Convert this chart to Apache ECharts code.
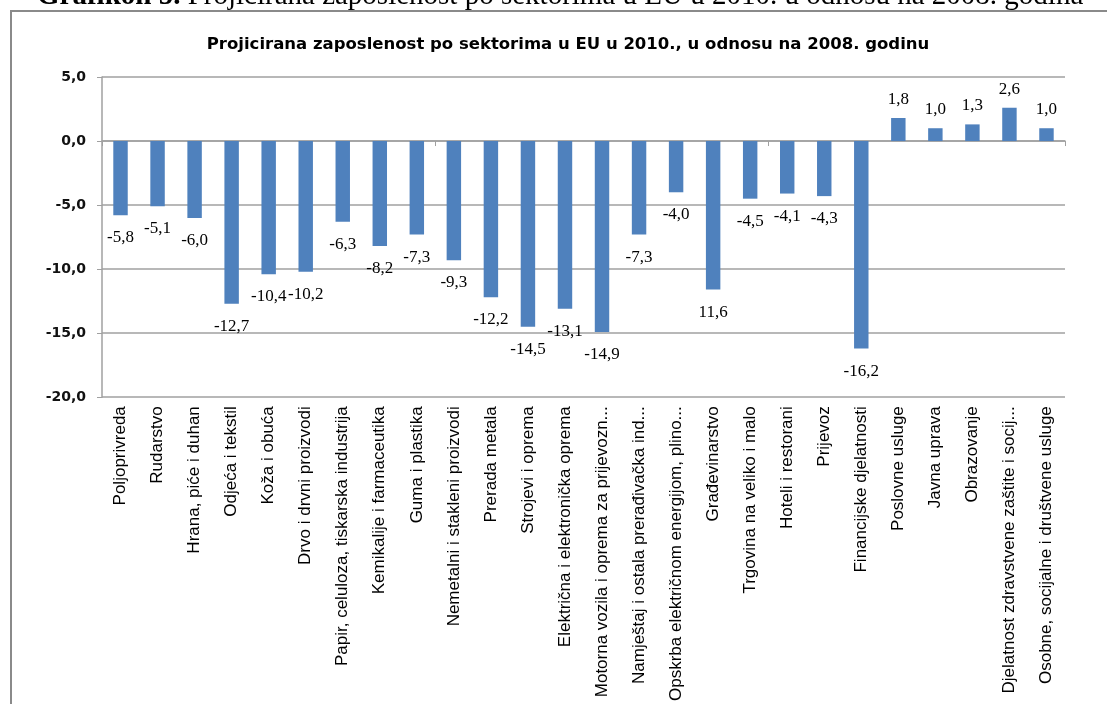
<!DOCTYPE html>
<html>
<head>
<meta charset="utf-8">
<script src="https://cdn.jsdelivr.net/npm/echarts@6/dist/echarts.min.js"></script>
<style>
html,body{margin:0;padding:0;background:#fff;}
#chart{width:1107px;height:704px;}
</style>
</head>
<body>
<div id="chart"></div>
<script>
const categories = [
  "Poljoprivreda", "Rudarstvo", "Hrana, piće i duhan", "Odjeća i tekstil", "Koža i obuća",
  "Drvo i drvni proizvodi", "Papir, celuloza, tiskarska industrija", "Kemikalije i farmaceutika",
  "Guma i plastika", "Nemetalni i stakleni proizvodi", "Prerada metala", "Strojevi i oprema",
  "Električna i elektronička oprema", "Motorna vozila i oprema za prijevozna sredstva",
  "Namještaj i ostala prerađivačka industrija", "Opskrba električnom energijom, plinom i vodom",
  "Građevinarstvo", "Trgovina na veliko i malo", "Hoteli i restorani", "Prijevoz",
  "Financijske djelatnosti", "Poslovne usluge", "Javna uprava", "Obrazovanje",
  "Djelatnost zdravstvene zaštite i socijalne skrbi", "Osobne, socijalne i društvene usluge"
];
const values = [
  -5.8, -5.1, -6.0, -12.7, -10.4, -10.2, -6.3, -8.2, -7.3, -9.3, -12.2, -14.5, -13.1,
  -14.9, -7.3, -4.0, -11.6, -4.5, -4.1, -4.3, -16.2, 1.8, 1.0, 1.3, 2.6, 1.0
];
const dataLabels = [
  "-5,8", "-5,1", "-6,0", "-12,7", "-10,4", "-10,2", "-6,3", "-8,2", "-7,3", "-9,3", "-12,2", "-14,5", "-13,1",
  "-14,9", "-7,3", "-4,0", "11,6", "-4,5", "-4,1", "-4,3", "-16,2", "1,8", "1,0", "1,3", "2,6", "1,0"
];
const chartTitle = "Projicirana zaposlenost po sektorima u EU u 2010., u odnosu na 2008. godinu";
const captionBold = "Grafikon 5.";
const captionText = " Projicirana zaposlenost po sektorima u EU u 2010. u odnosu na 2008. godina";
const yMin = -20, yMax = 5, yStep = 5;

const chart = echarts.init(document.getElementById('chart'), null, {renderer: 'canvas'});
const barData = values.map(v => ({
  value: v,
  label: {position: v < 0 ? 'bottom' : 'top', distance: v < 0 ? 14 : 10}
}));

chart.setOption({
  backgroundColor: '#ffffff',
  animation: false,
  title: {
    text: chartTitle,
    left: 563, top: 31, textAlign: 'center',
    textStyle: {fontFamily: 'DejaVu Sans', fontWeight: 'bold', fontSize: 16.5, color: '#000'}
  },
  graphic: [
    {type: 'rect', shape: {x: 11, y: 11, width: 1300, height: 900},
     style: {fill: 'none', stroke: '#8a8a8a', lineWidth: 2}, z: -10, silent: true},
    {type: 'text', left: 37, top: -18,
     style: {
       text: '{b|' + captionBold + '}{n|' + captionText + '}',
       rich: {
         b: {fontFamily: 'Liberation Serif', fontWeight: 'bold', fontSize: 29, fill: '#000'},
         n: {fontFamily: 'Liberation Serif', fontSize: 29, fill: '#000'}
       }
     }, z: 10}
  ],
  grid: {left: 102, right: 42, top: 77, bottom: 305, containLabel: false},
  xAxis: [
    {
      type: 'category', data: categories, position: 'bottom',
      axisLine: {show: false, onZero: false},
      axisTick: {show: false},
      axisLabel: {
        rotate: 90, interval: 0, margin: 9, color: '#000',
        fontFamily: 'Liberation Sans', fontSize: 17,
        width: 297, overflow: 'truncate', ellipsis: '...'
      }
    },
    {
      type: 'category', data: categories, position: 'top',
      axisLine: {show: true, onZero: true, lineStyle: {color: '#a0a0a0', width: 1.5}},
      axisTick: {show: true, inside: true, length: 5, alignWithLabel: false, lineStyle: {color: '#a0a0a0'}},
      axisLabel: {show: false},
      splitLine: {show: false}
    }
  ],
  yAxis: {
    type: 'value', min: yMin, max: yMax, interval: yStep,
    axisLine: {show: true, lineStyle: {color: '#a0a0a0', width: 1.5}},
    axisTick: {show: true, length: 5, lineStyle: {color: '#a0a0a0'}},
    splitLine: {show: true, lineStyle: {color: '#a0a0a0', width: 1.5}},
    axisLabel: {
      margin: 16, color: '#111',
      fontFamily: 'DejaVu Sans', fontWeight: 'bold', fontSize: 14,
      formatter: v => v.toFixed(1).replace('.', ',')
    }
  },
  series: [{
    type: 'bar', xAxisIndex: 0, yAxisIndex: 0,
    data: barData,
    barWidth: '39%',
    itemStyle: {color: '#4f81bd'},
    label: {
      show: true, color: '#000',
      fontFamily: 'Liberation Serif', fontSize: 17,
      formatter: p => dataLabels[p.dataIndex]
    }
  }]
});
</script>
</body>
</html>
